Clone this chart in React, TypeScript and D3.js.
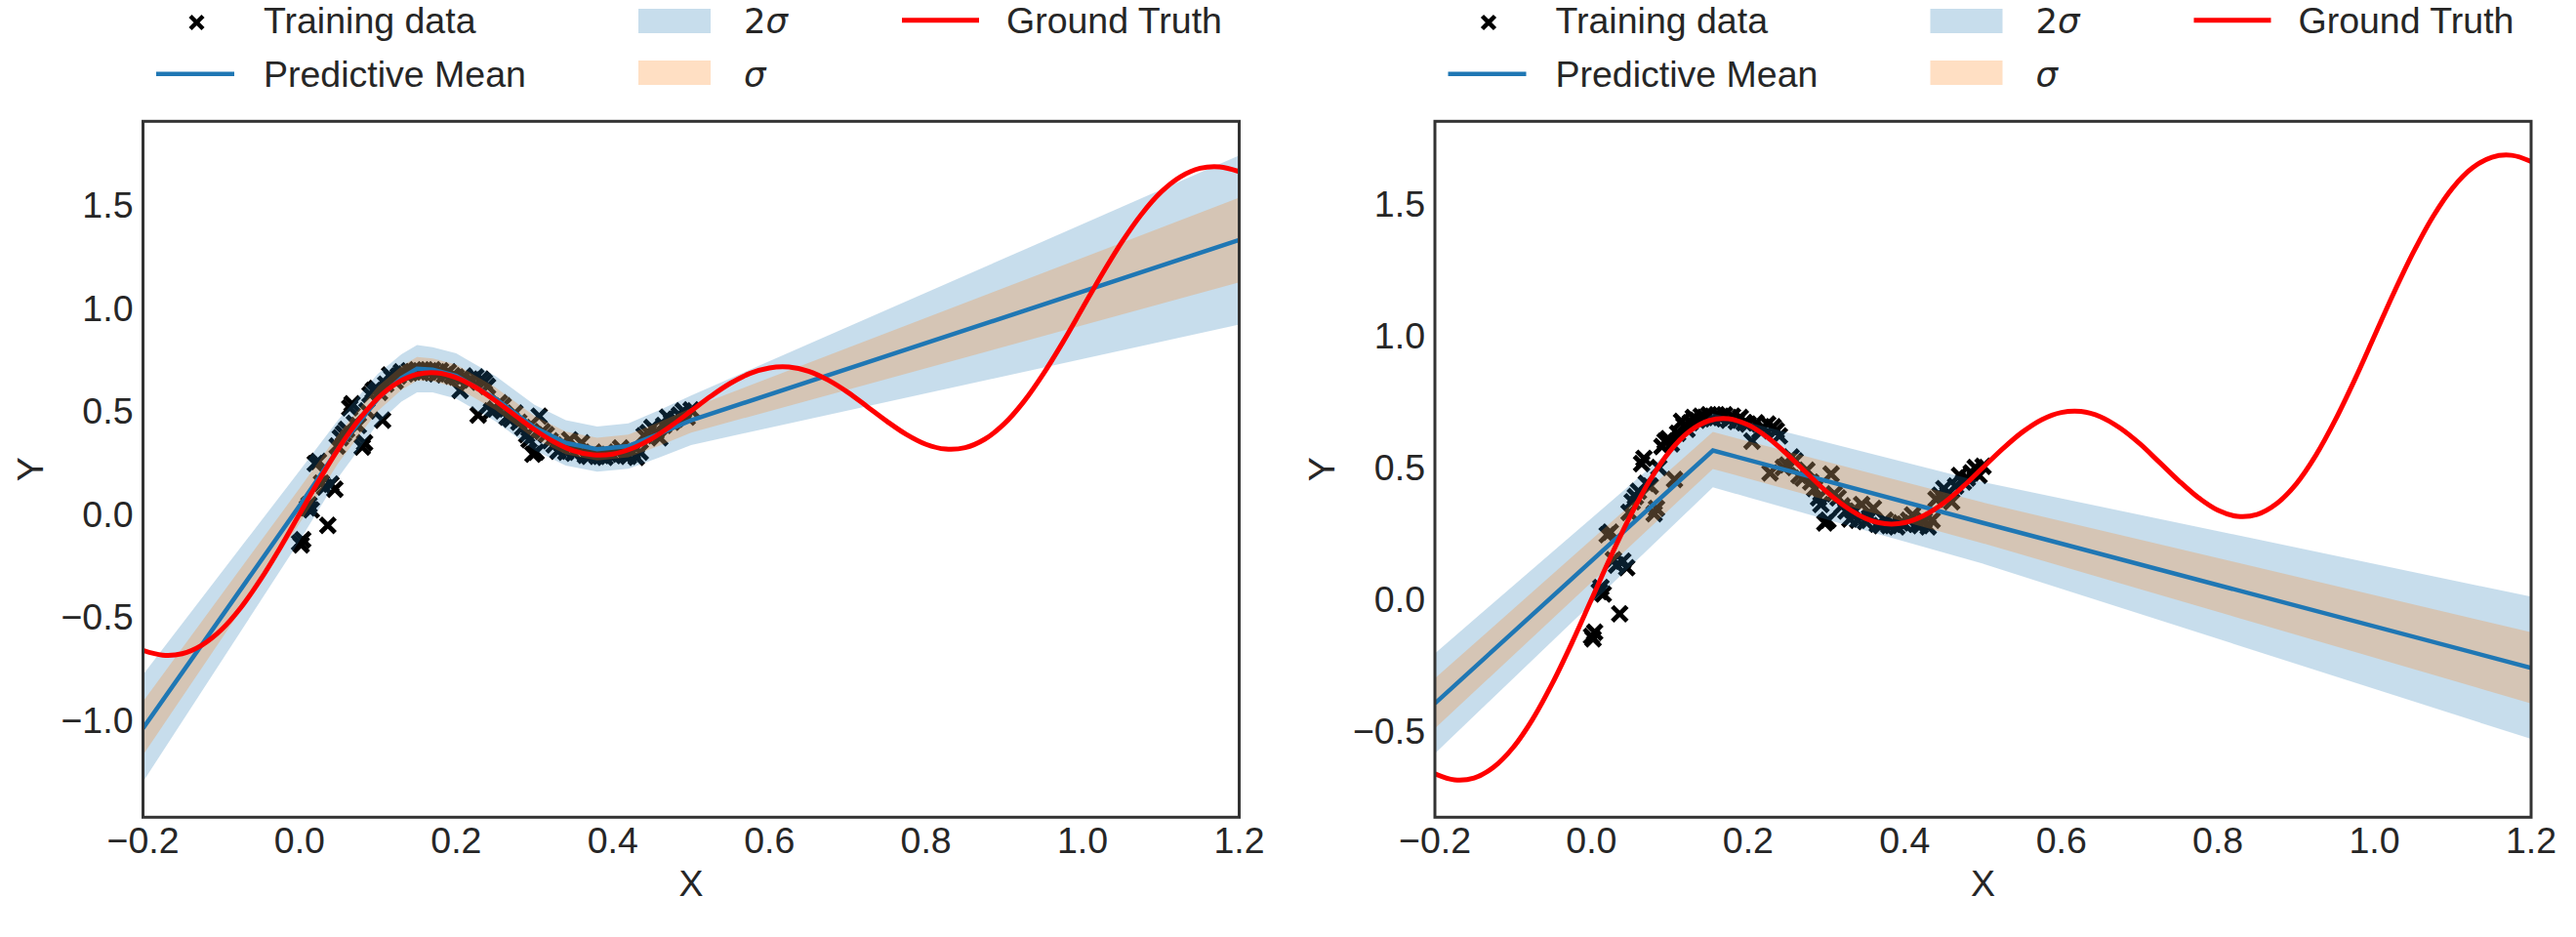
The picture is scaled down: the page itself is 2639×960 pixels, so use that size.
import React from 'react';
import * as d3 from 'd3';

// Ground truth curve, read at steps of 0.025 over [-0.2, 1.2]
const truthX = [
  -0.2, -0.175, -0.15, -0.125, -0.1, -0.075, -0.05, -0.025, 0, 0.025, 0.05, 0.075, 0.1, 0.125, 0.15,
  0.175, 0.2, 0.225, 0.25, 0.275, 0.3, 0.325, 0.35, 0.375, 0.4, 0.425, 0.45, 0.475, 0.5, 0.525, 0.55,
  0.575, 0.6, 0.625, 0.65, 0.675, 0.7, 0.725, 0.75, 0.775, 0.8, 0.825, 0.85, 0.875, 0.9, 0.925, 0.95,
  0.975, 1.0, 1.025, 1.05, 1.075, 1.1, 1.125, 1.15, 1.175, 1.2,
];
const truthY = [
  -0.662, -0.685, -0.678, -0.637, -0.562, -0.454, -0.319, -0.165, 0.0, 0.165, 0.319, 0.454, 0.562, 0.637, 0.678,
  0.685, 0.662, 0.614, 0.55, 0.479, 0.409, 0.35, 0.307, 0.287, 0.291, 0.319, 0.366, 0.429, 0.5, 0.571, 0.634,
  0.682, 0.709, 0.713, 0.693, 0.65, 0.591, 0.521, 0.45, 0.386, 0.338, 0.315, 0.322, 0.363, 0.438, 0.546, 0.681,
  0.835, 1.0, 1.165, 1.319, 1.454, 1.562, 1.637, 1.678, 1.685, 1.662,
];

// Training data
const trainX = [
  0.0, 0.002, 0.004, 0.01, 0.012, 0.015, 0.02, 0.024, 0.028, 0.032, 0.036, 0.04, 0.045, 0.048, 0.052,
  0.056, 0.06, 0.064, 0.067, 0.07, 0.075, 0.08, 0.083, 0.086, 0.09, 0.094, 0.098, 0.102, 0.106, 0.11,
  0.115, 0.118, 0.122, 0.126, 0.13, 0.135, 0.14, 0.145, 0.15, 0.155, 0.16, 0.165, 0.17, 0.175, 0.18,
  0.185, 0.19, 0.195, 0.2, 0.205, 0.21, 0.215, 0.22, 0.225, 0.228, 0.232, 0.236, 0.24, 0.245, 0.25,
  0.255, 0.26, 0.265, 0.27, 0.275, 0.28, 0.285, 0.29, 0.293, 0.298, 0.302, 0.306, 0.31, 0.315, 0.32,
  0.325, 0.33, 0.335, 0.34, 0.345, 0.35, 0.355, 0.36, 0.365, 0.37, 0.375, 0.38, 0.385, 0.39, 0.395,
  0.4, 0.405, 0.41, 0.415, 0.42, 0.425, 0.43, 0.435, 0.44, 0.445, 0.45, 0.455, 0.46, 0.465, 0.47,
  0.475, 0.48, 0.485, 0.49, 0.495, 0.5,
];
const trainY = [
  -0.14, -0.15, -0.125, 0.03, 0.045, 0.02, 0.245, 0.255, 0.15, 0.13, -0.055, 0.145, 0.12, 0.33, 0.37,
  0.39, 0.41, 0.515, 0.535, 0.44, 0.43, 0.325, 0.345, 0.5, 0.58, 0.6, 0.61, 0.59, 0.455, 0.63,
  0.675, 0.66, 0.645, 0.67, 0.69, 0.68, 0.695, 0.69, 0.7, 0.685, 0.7, 0.69, 0.7, 0.68, 0.695,
  0.675, 0.69, 0.67, 0.665, 0.6, 0.67, 0.64, 0.65, 0.665, 0.48, 0.655, 0.64, 0.62, 0.5, 0.51,
  0.54, 0.525, 0.47, 0.46, 0.49, 0.445, 0.42, 0.385, 0.36, 0.29, 0.3, 0.475, 0.4, 0.385, 0.355,
  0.335, 0.305, 0.34, 0.3, 0.36, 0.295, 0.31, 0.345, 0.285, 0.28, 0.3, 0.28, 0.285, 0.275, 0.29,
  0.285, 0.3, 0.32, 0.285, 0.28, 0.3, 0.275, 0.3, 0.38, 0.395, 0.42, 0.4, 0.37, 0.43, 0.47,
  0.445, 0.46, 0.48, 0.5, 0.47, 0.505,
];

// Left model: predictive mean and 2-sigma half width
const leftMeanX = [-0.2, 0.0, 0.05, 0.1, 0.13, 0.15, 0.17, 0.2, 0.25, 0.3, 0.34, 0.38, 0.42, 0.46, 0.5, 1.2];
const leftMean = [-1.04, 0.04, 0.32, 0.56, 0.66, 0.705, 0.7, 0.67, 0.56, 0.42, 0.345, 0.315, 0.33, 0.39, 0.455, 1.33];
const leftSd2 = [0.26, 0.17, 0.14, 0.12, 0.115, 0.115, 0.11, 0.11, 0.11, 0.11, 0.11, 0.11, 0.11, 0.115, 0.12, 0.41];

// Right model
const rightMeanX = [-0.2, 0.155, 0.5, 1.2];
const rightMean = [-0.395, 0.565, 0.29, -0.26];
const rightSd2 = [0.19, 0.14, 0.155, 0.27];

const xTicks = [-0.2, 0.0, 0.2, 0.4, 0.6, 0.8, 1.0, 1.2];
const leftYTicks = [-1.0, -0.5, 0.0, 0.5, 1.0, 1.5];
const rightYTicks = [-0.5, 0.0, 0.5, 1.0, 1.5];
const xDomain: [number, number] = [-0.2, 1.2];
const leftYDomain: [number, number] = [-1.472, 1.906];
const rightYDomain: [number, number] = [-0.827, 1.814];

const FONT = '"Liberation Sans", Arial, sans-serif';
const TXT = '#262626';
const FS = 37.5;
const TOP = 124.3;
const BOTTOM = 837.3;
const PW = 1123;

const fmt = d3.format('.1f');

function xMark(size: number) {
  return `M${-size},${-size}L${size},${size}M${-size},${size}L${size},${-size}`;
}

type PanelProps = {
  id: string;
  left: number;
  yDomain: [number, number];
  yTicks: number[];
  meanX: number[];
  mean: number[];
  sd2: number[];
};

function Panel({ id, left, yDomain, yTicks, meanX, mean, sd2 }: PanelProps) {
  const x = d3.scaleLinear().domain(xDomain).range([left, left + PW]);
  const y = d3.scaleLinear().domain(yDomain).range([BOTTOM, TOP]);
  const idx = meanX.map((_, i) => i);
  const band = (k: number) =>
    d3
      .area<number>()
      .x((i) => x(meanX[i]))
      .y0((i) => y(mean[i] - (sd2[i] * k) / 2))
      .y1((i) => y(mean[i] + (sd2[i] * k) / 2))(idx) || '';
  const meanLine = d3
    .line<number>()
    .x((i) => x(meanX[i]))
    .y((i) => y(mean[i]))(idx) || '';
  const truthLine = d3
    .line<number>()
    .curve(d3.curveCatmullRom)
    .x((i) => x(truthX[i]))
    .y((i) => y(truthY[i]))(truthX.map((_, i) => i)) || '';
  const cy = (TOP + BOTTOM) / 2;
  return (
    <g>
      <defs>
        <clipPath id={id}>
          <rect x={left} y={TOP} width={PW} height={BOTTOM - TOP} />
        </clipPath>
      </defs>
      <g clipPath={`url(#${id})`}>
        {trainX.map((tx, i) => (
          <path
            key={i}
            d={xMark(7.5)}
            transform={`translate(${x(tx)},${y(trainY[i])})`}
            stroke="#000"
            strokeWidth={4.8}
            fill="none"
          />
        ))}
        <path d={band(2)} fill="#1f77b4" fillOpacity={0.25} />
        <path d={band(1)} fill="#ff7f0e" fillOpacity={0.25} />
        <path d={meanLine} fill="none" stroke="#1f77b4" strokeWidth={4.5} />
        <path d={truthLine} fill="none" stroke="#ff0000" strokeWidth={5} />
      </g>
      <rect x={left} y={TOP} width={PW} height={BOTTOM - TOP} fill="none" stroke="#333" strokeWidth={3} />
      {xTicks.map((t) => (
        <text key={t} x={x(t)} y={874} textAnchor="middle" fontFamily={FONT} fontSize={FS} fill={TXT}>
          {fmt(t)}
        </text>
      ))}
      {yTicks.map((t) => (
        <text key={t} x={left - 10} y={y(t) + 13} textAnchor="end" fontFamily={FONT} fontSize={FS} fill={TXT}>
          {fmt(t)}
        </text>
      ))}
      <text x={left + PW / 2} y={918} textAnchor="middle" fontFamily={FONT} fontSize={FS} fill={TXT}>
        X
      </text>
      <text
        transform={`translate(${left - 103},${cy}) rotate(-90)`}
        textAnchor="middle"
        fontFamily={FONT}
        fontSize={FS}
        fill={TXT}
      >
        Y
      </text>
      {/* legend */}
      <path d={xMark(6.5)} transform={`translate(${left + 55},${23})`} stroke="#000" strokeWidth={4.5} fill="none" />
      <text x={left + 123.5} y={34} fontFamily={FONT} fontSize={FS} fill={TXT}>Training data</text>
      <line x1={left + 13.5} x2={left + 93.5} y1={75.7} y2={75.7} stroke="#1f77b4" strokeWidth={4.5} />
      <text x={left + 123.5} y={89} fontFamily={FONT} fontSize={FS} fill={TXT}>Predictive Mean</text>
      <rect x={left + 507.5} y={9} width={74} height={25} fill="#1f77b4" fillOpacity={0.25} />
      <text x={left + 615.5} y={34} fontFamily={FONT} fontSize={FS} fill={TXT}>
        <tspan fontFamily='"DejaVu Sans", sans-serif' fontSize={FS - 2}>2</tspan>
        <tspan fontFamily='"DejaVu Sans", sans-serif' fontSize={FS - 2} fontStyle="italic">σ</tspan>
      </text>
      <rect x={left + 507.5} y={62} width={74} height={25} fill="#ff7f0e" fillOpacity={0.25} />
      <text x={left + 615.5} y={89} fontFamily='"DejaVu Sans", sans-serif' fontStyle="italic" fontSize={FS - 2} fill={TXT}>
        σ
      </text>
      <line x1={left + 777.5} x2={left + 856.5} y1={20.7} y2={20.7} stroke="#ff0000" strokeWidth={5} />
      <text x={left + 884.5} y={34} fontFamily={FONT} fontSize={FS} fill={TXT}>Ground Truth</text>
    </g>
  );
}

export default function App() {
  return (
    <svg
      width={2639}
      height={960}
      style={{ position: 'absolute', left: 0, top: 0, display: 'block', background: '#fff' }}
    >
      <rect width={2639} height={960} fill="#fff" />
      <Panel id="clipL" left={146.5} yDomain={leftYDomain} yTicks={leftYTicks} meanX={leftMeanX} mean={leftMean} sd2={leftSd2} />
      <Panel id="clipR" left={1470} yDomain={rightYDomain} yTicks={rightYTicks} meanX={rightMeanX} mean={rightMean} sd2={rightSd2} />
    </svg>
  );
}
